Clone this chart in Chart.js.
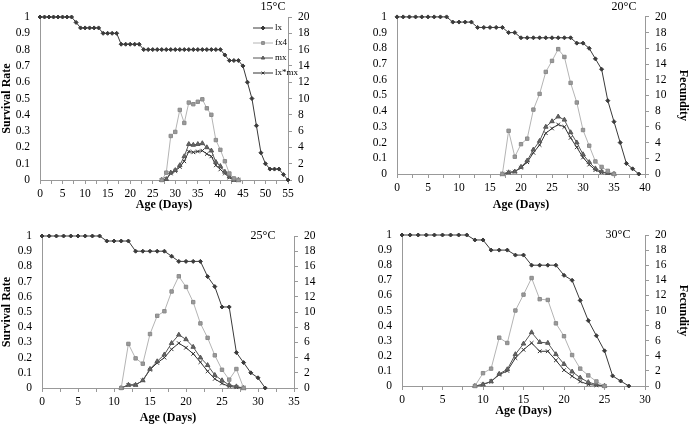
<!DOCTYPE html>
<html>
<head>
<meta charset="utf-8">
<script src="https://cdn.jsdelivr.net/npm/chart.js@4/dist/chart.umd.min.js"></script>
<style>
  body { margin: 0; background: #fff; }
  .panel { position: absolute; }
</style>
</head>
<body>
<div class="panel" style="left:0;top:0"><canvas id="c15" width="345" height="212"></canvas></div>
<div class="panel" style="left:345px;top:0"><canvas id="c20" width="345" height="212"></canvas></div>
<div class="panel" style="left:0;top:212px"><canvas id="c25" width="345" height="213"></canvas></div>
<div class="panel" style="left:345px;top:212px"><canvas id="c30" width="345" height="213"></canvas></div>
<script>
// 15 C
const lxDays15 = [0,1,2,3,4,5,6,7,8,9,10,11,12,13,14,15,16,17,18,19,20,21,22,23,24,25,26,27,28,29,30,31,32,33,34,35,36,37,38,39,40,41,42,43,44,45,46,47,48,49,50,51,52,53,54,55];
const lx15 = [1,1,1,1,1,1,1,1,0.967,0.933,0.933,0.933,0.933,0.933,0.9,0.9,0.9,0.9,0.833,0.833,0.833,0.833,0.833,0.8,0.8,0.8,0.8,0.8,0.8,0.8,0.8,0.8,0.8,0.8,0.8,0.8,0.8,0.8,0.8,0.8,0.8,0.767,0.733,0.733,0.733,0.7,0.6,0.5,0.333,0.167,0.1,0.067,0.067,0.067,0.033,0];
const fecDays15 = [27,28,29,30,31,32,33,34,35,36,37,38,39,40,41,42,43,44];
const fx4_15 = [0,0.9,5.4,5.9,8.6,7.0,9.5,9.3,9.6,9.9,8.8,8.0,4.9,3.7,2.3,0.8,0.2,0];
const mx15 = [0,0.1,0.9,1.2,1.8,2.9,4.4,4.3,4.4,4.5,4.0,3.6,2.2,1.7,1.0,0.4,0,0];
const lxmx15 = [0,0.1,0.8,1.1,1.6,2.3,3.5,3.4,3.5,3.6,3.2,2.9,1.8,1.3,0.8,0.3,0,0];

// 20 C
const lxDays20 = [0,1,2,3,4,5,6,7,8,9,10,11,12,13,14,15,16,17,18,19,20,21,22,23,24,25,26,27,28,29,30,31,32,33,34,35,36,37,38,39];
const lx20 = [1,1,1,1,1,1,1,1,1,0.967,0.967,0.967,0.967,0.933,0.933,0.933,0.933,0.933,0.9,0.9,0.867,0.867,0.867,0.867,0.867,0.867,0.867,0.867,0.867,0.833,0.833,0.8,0.733,0.667,0.467,0.333,0.2,0.067,0.033,0];
const fecDays20 = [17,18,19,20,21,22,23,24,25,26,27,28,29,30,31,32,33,34,35];
const fx4_20 = [0,5.5,2.2,3.8,4.5,8.2,10.2,13.0,14.4,15.9,14.9,11.6,9.1,5.6,3.6,1.6,0.9,0.4,0];
const mx20 = [0,0.2,0.3,0.9,1.7,3.1,4.2,6.0,6.7,7.3,6.9,5.3,4.0,2.5,1.5,0.7,0.3,0.1,0];
const lxmx20 = [0,0.2,0.3,0.8,1.5,2.7,3.7,5.2,5.8,6.3,6.0,4.6,3.4,2.1,1.2,0.5,0.2,0.1,0];

// 25 C
const lxDays25 = [0,1,2,3,4,5,6,7,8,9,10,11,12,13,14,15,16,17,18,19,20,21,22,23,24,25,26,27,28,29,30,31];
const lx25 = [1,1,1,1,1,1,1,1,1,0.967,0.967,0.967,0.967,0.9,0.9,0.9,0.9,0.9,0.867,0.833,0.833,0.833,0.833,0.733,0.667,0.533,0.533,0.233,0.167,0.1,0.067,0];
const fecDays25 = [11,12,13,14,15,16,17,18,19,20,21,22,23,24,25,26,27,28];
const fx4_25 = [0,5.8,3.9,3.2,7.1,9.5,10.1,12.7,14.7,13.3,11.3,8.5,6.6,4.3,2.4,1.1,2.5,0];
const mx25 = [0,0.4,0.4,1.0,2.5,3.5,4.4,5.9,7.0,6.4,5.4,4.0,3.0,1.7,1.0,0.4,0.2,0];
const lxmx25 = [0,0.4,0.4,1.0,2.4,3.3,4.0,5.1,5.9,5.3,4.5,3.4,2.2,1.2,0.6,0.2,0.1,0];

// 30 C
const lxDays30 = [0,1,2,3,4,5,6,7,8,9,10,11,12,13,14,15,16,17,18,19,20,21,22,23,24,25,26,27,28];
const lx30 = [1,1,1,1,1,1,1,1,1,0.967,0.967,0.9,0.9,0.9,0.867,0.867,0.8,0.8,0.8,0.8,0.733,0.7,0.567,0.433,0.333,0.233,0.067,0.033,0];
const fecDays30 = [9,10,11,12,13,14,15,16,17,18,19,20,21,22,23,24,25];
const fx4_30 = [0,1.7,2.3,6.4,5.7,10.0,12.1,14.3,11.5,11.4,8.3,6.6,4.1,2.3,1.4,0.6,0];
const mx30 = [0,0.2,0.6,1.6,2.2,4.2,5.6,7.1,5.8,5.7,4.2,2.9,1.9,1.1,0.5,0.2,0];
const lxmx30 = [0,0.2,0.6,1.5,2.0,3.7,4.8,5.7,4.6,4.6,3.4,2.1,1.3,0.6,0.2,0.1,0];

const seriesNames = ['lx', 'fx4', 'mx', 'lx*mx'];
const FONT = "'Liberation Serif', 'Times New Roman', serif";

function pts(xs, ys) {
  return xs.map((x, i) => ({ x: x, y: ys[i] }));
}

// temperature label + small legend box (only the 15C panel has one)
const panelText = {
  id: 'panelText',
  afterDraw(chart, args, opts) {
    const ctx = chart.ctx;
    ctx.save();
    ctx.fillStyle = '#000';
    ctx.font = '12px ' + FONT;
    ctx.textAlign = 'center';
    ctx.textBaseline = 'middle';
    ctx.fillText(opts.temp, opts.tx, opts.ty);
    if (opts.legend) {
      chart.data.datasets.forEach((ds, i) => {
        const y = opts.ly + i * 15;
        ctx.strokeStyle = ds.borderColor;
        ctx.lineWidth = 1;
        ctx.beginPath();
        ctx.moveTo(opts.lx, y);
        ctx.lineTo(opts.lx + 20, y);
        ctx.stroke();
        ctx.fillStyle = ds.pointBackgroundColor;
        ctx.strokeStyle = ds.pointBorderColor;
        Chart.helpers.drawPoint(ctx, { pointStyle: ds.pointStyle, radius: 2, borderWidth: 1, rotation: 0 }, opts.lx + 10, y);
        ctx.fillStyle = '#000';
        ctx.font = '9px ' + FONT;
        ctx.textAlign = 'left';
        ctx.fillText(ds.label, opts.lx + 22, y);
      });
    }
    ctx.restore();
  }
};

function makeChart(id, cfg) {
  const datasets = [
    { label: seriesNames[0], data: pts(cfg.lxDays, cfg.lx), yAxisID: 'y',
      borderColor: '#3a3a3a', pointBackgroundColor: '#3a3a3a', pointBorderColor: '#3a3a3a',
      pointStyle: 'rectRot', pointRadius: 2 },
    { label: seriesNames[1], data: pts(cfg.fecDays, cfg.fx4), yAxisID: 'y2',
      borderColor: '#b4b4b4', pointBackgroundColor: '#9a9a9a', pointBorderColor: '#8a8a8a',
      pointStyle: 'rect', pointRadius: 2.4 },
    { label: seriesNames[2], data: pts(cfg.fecDays, cfg.mx), yAxisID: 'y2',
      borderColor: '#555', pointBackgroundColor: '#666', pointBorderColor: '#555',
      pointStyle: 'triangle', pointRadius: 2.6 },
    { label: seriesNames[3], data: pts(cfg.fecDays, cfg.lxmx), yAxisID: 'y2',
      borderColor: '#333', pointBackgroundColor: '#333', pointBorderColor: '#333',
      pointStyle: 'crossRot', pointRadius: 2.6 }
  ];
  datasets.forEach(d => { d.borderWidth = 1; d.pointBorderWidth = 1; d.tension = 0; d.pointHoverRadius = 3; d.clip = 6; d.showLine = true; });

  new Chart(document.getElementById(id), {
    type: 'scatter',
    data: { datasets: datasets },
    options: {
      responsive: false,
      animation: false,
      devicePixelRatio: 1,
      layout: { padding: { top: cfg.top, left: 0, right: 0, bottom: cfg.bottomPad || 0 } },
      plugins: {
        legend: { display: false },
        tooltip: { enabled: false },
        panelText: cfg.text
      },
      scales: {
        x: {
          type: 'linear', min: 0, max: cfg.xMax,
          afterFit: s => { s.height = cfg.bottomH; },
          ticks: { stepSize: 2.5, padding: 3, color: '#000', font: { family: FONT, size: 11.5 },
                   autoSkip: false, maxRotation: 0,
                   callback: v => (v % 5 === 0 ? v : '') },
          grid: { drawOnChartArea: false, tickLength: 4, color: '#999' },
          border: { color: '#999' },
          title: { display: true, text: 'Age (Days)', color: '#000', padding: 0,
                   font: { family: FONT, size: 12, weight: 'bold' } }
        },
        y: {
          position: 'left', min: 0, max: 1,
          afterFit: s => { s.width = cfg.leftW; },
          ticks: { stepSize: 0.1, autoSkip: false, padding: 10, color: '#000', font: { family: FONT, size: 11.5 },
                   callback: v => +v.toFixed(1) },
          grid: { display: false, drawTicks: false },
          border: { color: '#999' },
          title: { display: cfg.leftTitle, text: 'Survival Rate', color: '#000', padding: 0,
                   font: { family: FONT, size: 12, weight: 'bold' } }
        },
        y2: {
          position: 'right', min: 0, max: 20,
          afterFit: s => { s.width = cfg.rightW; },
          ticks: { stepSize: 2, autoSkip: false, padding: 6, color: '#000', font: { family: FONT, size: 11.5 } },
          grid: { drawOnChartArea: false, tickLength: 4, color: '#999' },
          border: { color: '#999' },
          title: { display: cfg.rightTitle, text: 'Fecundity', color: '#000', padding: 0,
                   font: { family: FONT, size: 12, weight: 'bold' } }
        }
      }
    },
    plugins: [panelText]
  });
}

makeChart('c15', {
  lxDays: lxDays15, lx: lx15, fecDays: fecDays15, fx4: fx4_15, mx: mx15, lxmx: lxmx15,
  xMax: 55, top: 17, leftW: 40, rightW: 57, bottomH: 32, leftTitle: true, rightTitle: false,
  text: { temp: '15°C', tx: 273, ty: 7, legend: true, lx: 253, ly: 28 }
});
makeChart('c20', {
  lxDays: lxDays20, lx: lx20, fecDays: fecDays20, fx4: fx4_20, mx: mx20, lxmx: lxmx20,
  xMax: 40, top: 15, leftW: 52, rightW: 45, bottomH: 38, leftTitle: false, rightTitle: true,
  text: { temp: '20°C', tx: 279, ty: 7 }
});
makeChart('c25', {
  lxDays: lxDays25, lx: lx25, fecDays: fecDays25, fx4: fx4_25, mx: mx25, lxmx: lxmx25,
  xMax: 35, top: 24, leftW: 42, rightW: 51, bottomH: 37, leftTitle: true, rightTitle: false,
  text: { temp: '25°C', tx: 263, ty: 24 }
});
makeChart('c30', {
  lxDays: lxDays30, lx: lx30, fecDays: fecDays30, fx4: fx4_30, mx: mx30, lxmx: lxmx30,
  xMax: 30, top: 23, leftW: 57, rightW: 45, bottomH: 32, bottomPad: 7, leftTitle: false, rightTitle: true,
  text: { temp: '30°C', tx: 273, ty: 23 }
});
</script>
</body>
</html>
